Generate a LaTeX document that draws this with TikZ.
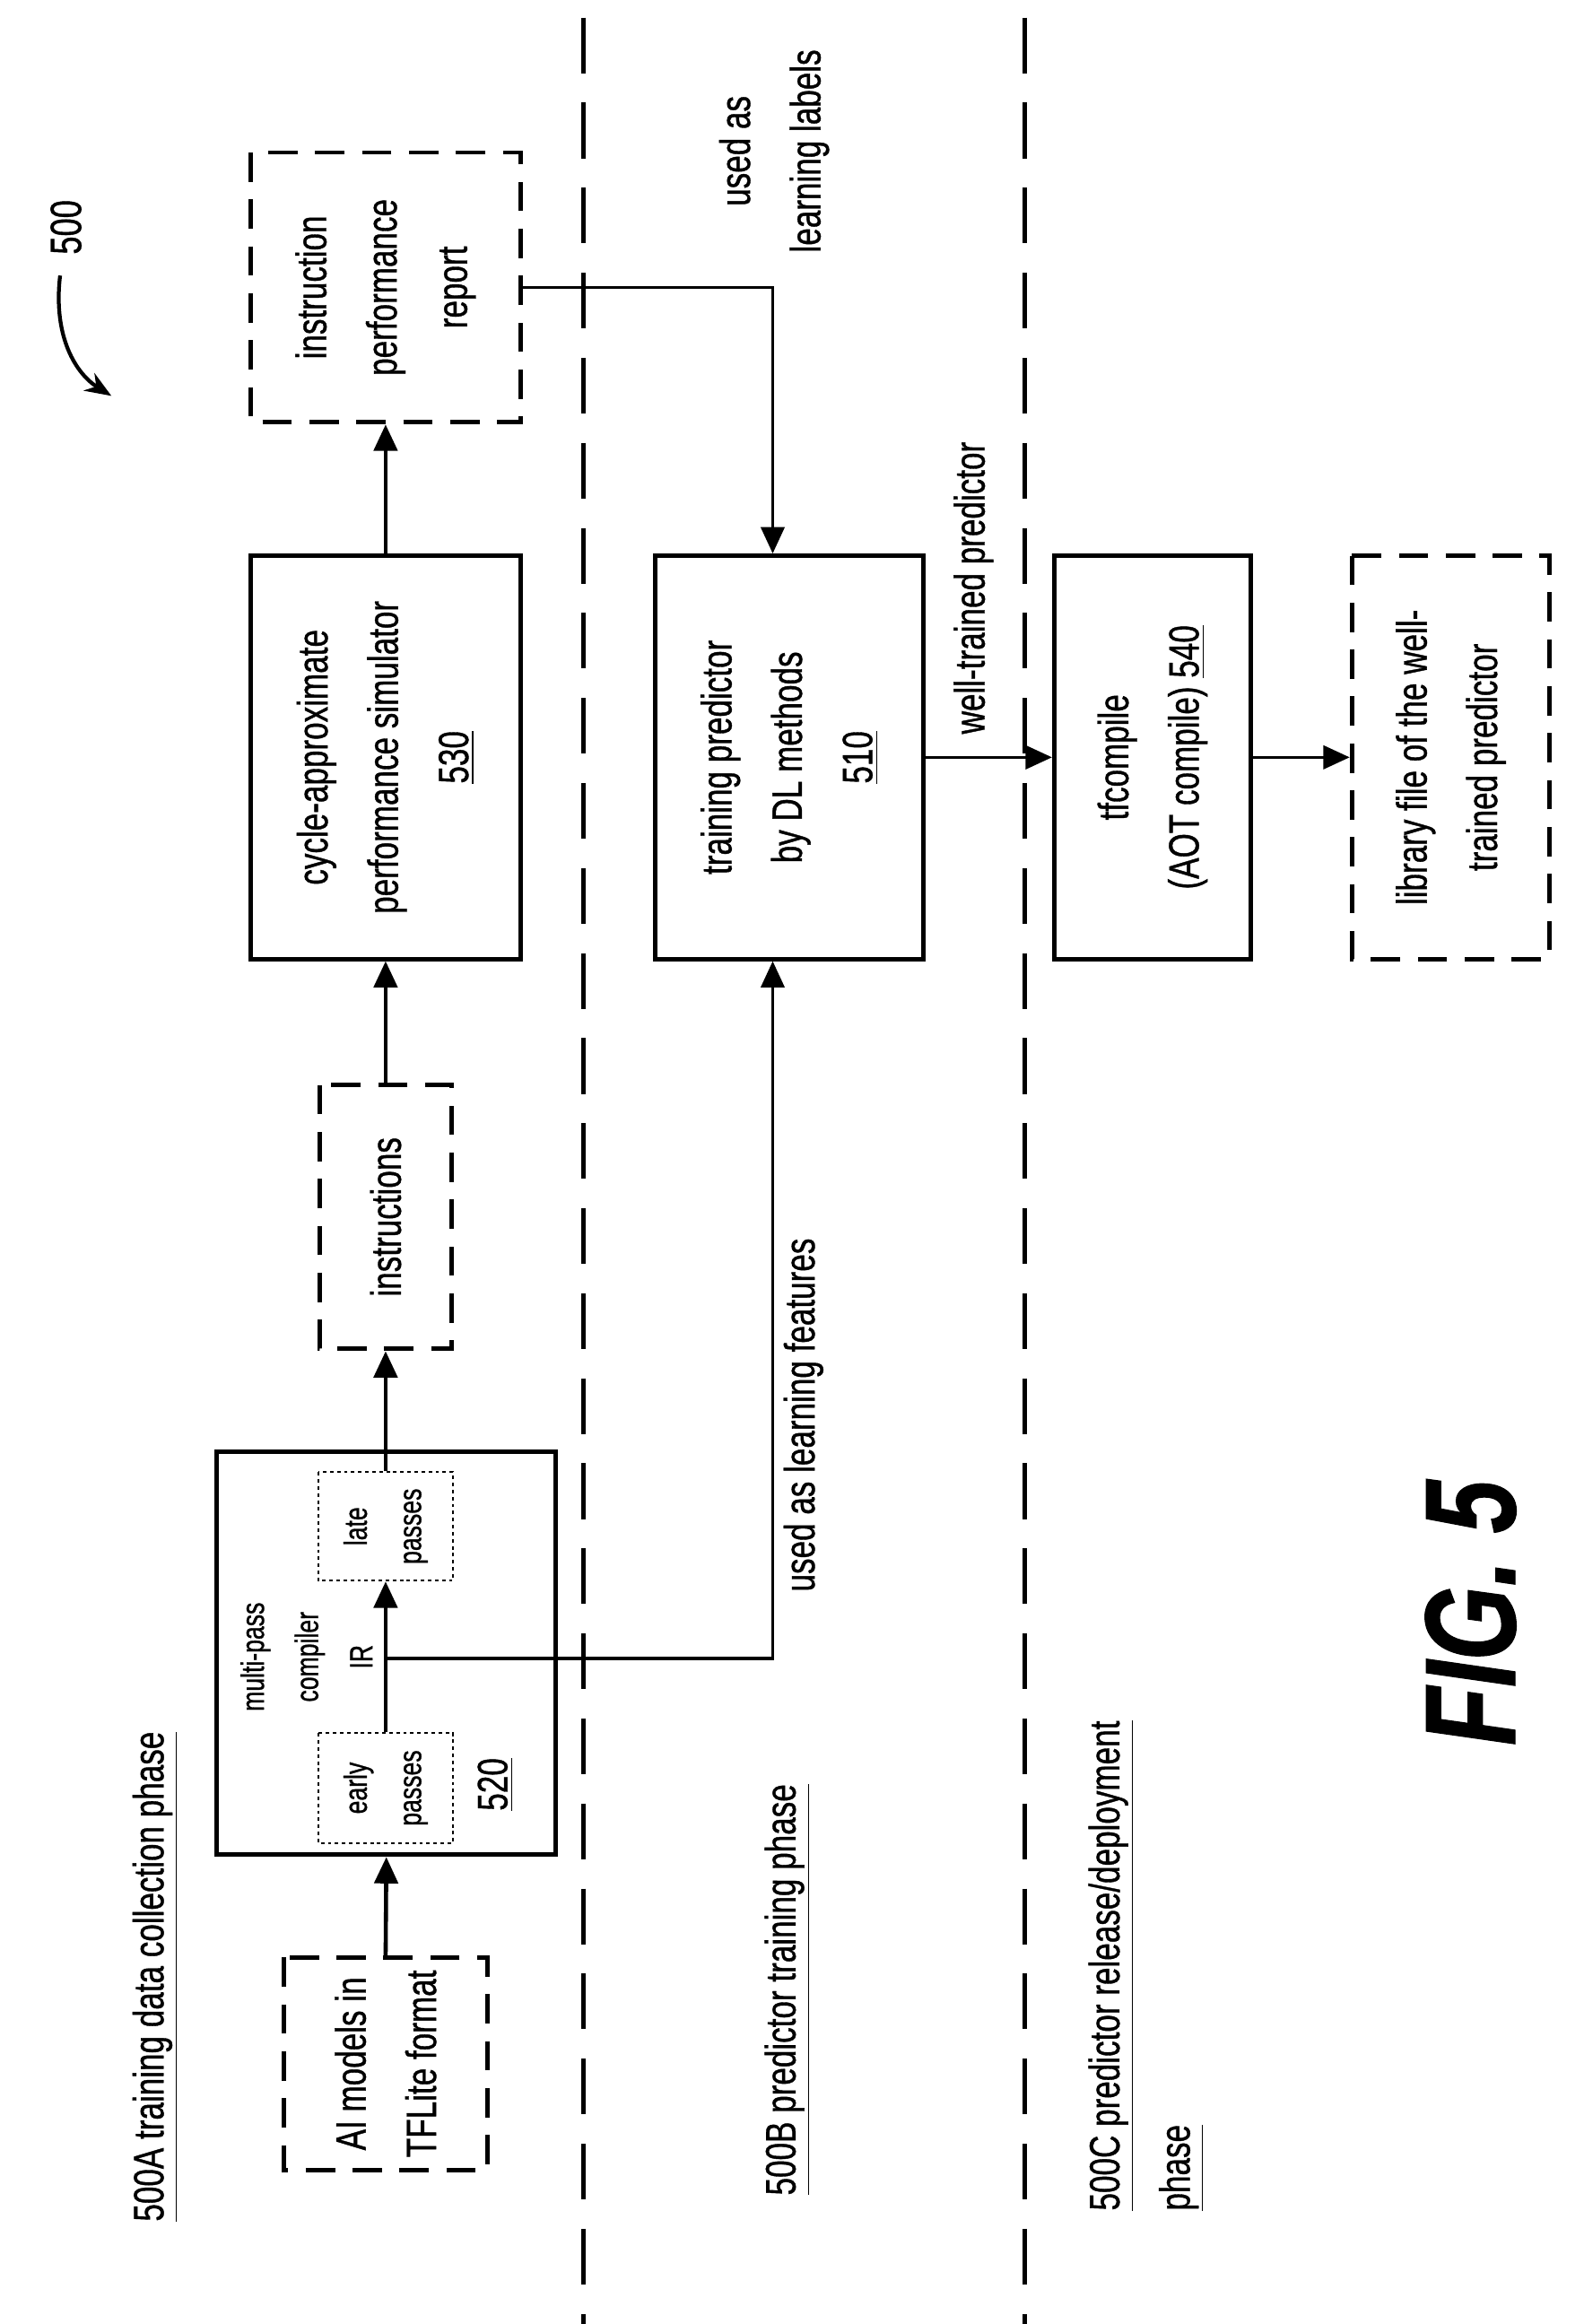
\documentclass[tikz,border=0pt]{standalone}
\usepackage{fontspec}
\setmainfont{Liberation Sans}[FakeStretch=0.74,FakeBold=0.8]
\usetikzlibrary{arrows.meta,calc}
\begin{document}
\begin{tikzpicture}[x=0.5pt,y=-0.5pt,
  txt/.style={rotate=90,align=center,font=\fontsize{14.5}{24}\selectfont,inner sep=0pt},
  box/.style={txt,draw,line width=1.5pt},
  dbox/.style={box,dash pattern=on 10pt off 6pt},
  dotbox/.style={txt,draw,line width=0.6pt,dash pattern=on 1.2pt off 1.2pt},
  arr/.style={line width=1.4pt,-{Triangle[length=9pt,width=8pt]}},
  sep/.style={line width=1.5pt,dash pattern=on 19pt off 10pt}]
\useasboundingbox (0,0) rectangle (1080,1585);
% separators
\draw[sep] (398,12) -- (398,1585);
\draw[sep] (699,12) -- (699,1585);
% boxes
\node[dbox,minimum width=92pt,minimum height=92pt] (report) at (263,196) {instruction\\performance\\report};
\node[box,minimum width=137.5pt,minimum height=92pt] (sim) at (263,516.5) {cycle-approximate\\performance simulator\\\underline{530}};
\node[dbox,minimum width=90pt,minimum height=45pt] (instr) at (263,830) {instructions};
\node[box,minimum width=137.5pt,minimum height=115.5pt] (comp) at (263.5,1127.5) {};
\node[dotbox,minimum width=37pt,minimum height=46pt,font=\fontsize{11}{18.5}\selectfont] (late) at (263,1041) {late\\passes};
\node[dotbox,minimum width=37.5pt,minimum height=46pt,font=\fontsize{11}{18.5}\selectfont] (early) at (263,1219.5) {early\\passes};
\node[txt,font=\fontsize{11}{18.5}\selectfont] (ir) at (209,1130) {multi-pass\\compiler\\IR};
\node[txt] (n520) at (338,1217) {\underline{520}};
\node[dbox,minimum width=72.5pt,minimum height=69.5pt] (ai) at (263,1407.5) {AI models in\\TFLite format};
\node[box,minimum width=137.5pt,minimum height=91.5pt] (train) at (538.5,516.5) {training predictor\\by DL methods\\\underline{510}};
\node[box,minimum width=137.5pt,minimum height=67pt] (tf) at (786,516.5) {tfcompile\\(AOT compile) \underline{540}};
\node[dbox,minimum width=137.5pt,minimum height=67.5pt] (lib) at (989.5,516.5) {library file of the well-\\trained predictor};
% labels
\node[txt] (lab1) at (528,103) {used as\\learning labels};
\node[txt] (lab2) at (548,965) {used as learning features};
\node[txt] (lab3) at (664,401) {well-trained predictor};
\node[txt] (p500a) at (106,1348) {\underline{500A training data collection phase}};
\node[txt] (p500b) at (537,1357) {\underline{500B predictor training phase}};
\node[txt,align=left,anchor=north west] (p500c) at (742,1508) {\underline{500C predictor release/deployment}\\\underline{phase}};
\node[txt,font=\fontsize{44}{48}\bfseries\itshape\selectfont] (fig) at (1003,1100) {FIG. 5};
\node[txt,font=\fontsize{15}{16}\selectfont] (n500) at (45,155) {500};
% connectors
\coordinate (br) at (263,1131);
\draw[arr] (ai.east) -- (comp.west);
\draw[arr] (early.east) -- (late.west);
\draw[arr] (late.east) -- (instr.west);
\draw[arr] (instr.east) -- (sim.west);
\draw[arr] (sim.east) -- (report.west);
\draw[arr,line width=1.1pt] (br) -| ($(train.west)+(-11.5,0)$);
\draw[arr,line width=1.1pt] (report.south) -| ($(train.east)+(-11.5,0)$);
\draw[arr,line width=1.1pt] (train.south) -- (tf.north);
\draw[arr,line width=1.1pt] (tf.south) -- (lib.north);
\draw[line width=1.3pt,-{Stealth[length=9pt,width=7pt]}] (n500.west) ++(-4,14) .. controls (36,230) and (52,255) .. (76,270);
\end{tikzpicture}
\end{document}
